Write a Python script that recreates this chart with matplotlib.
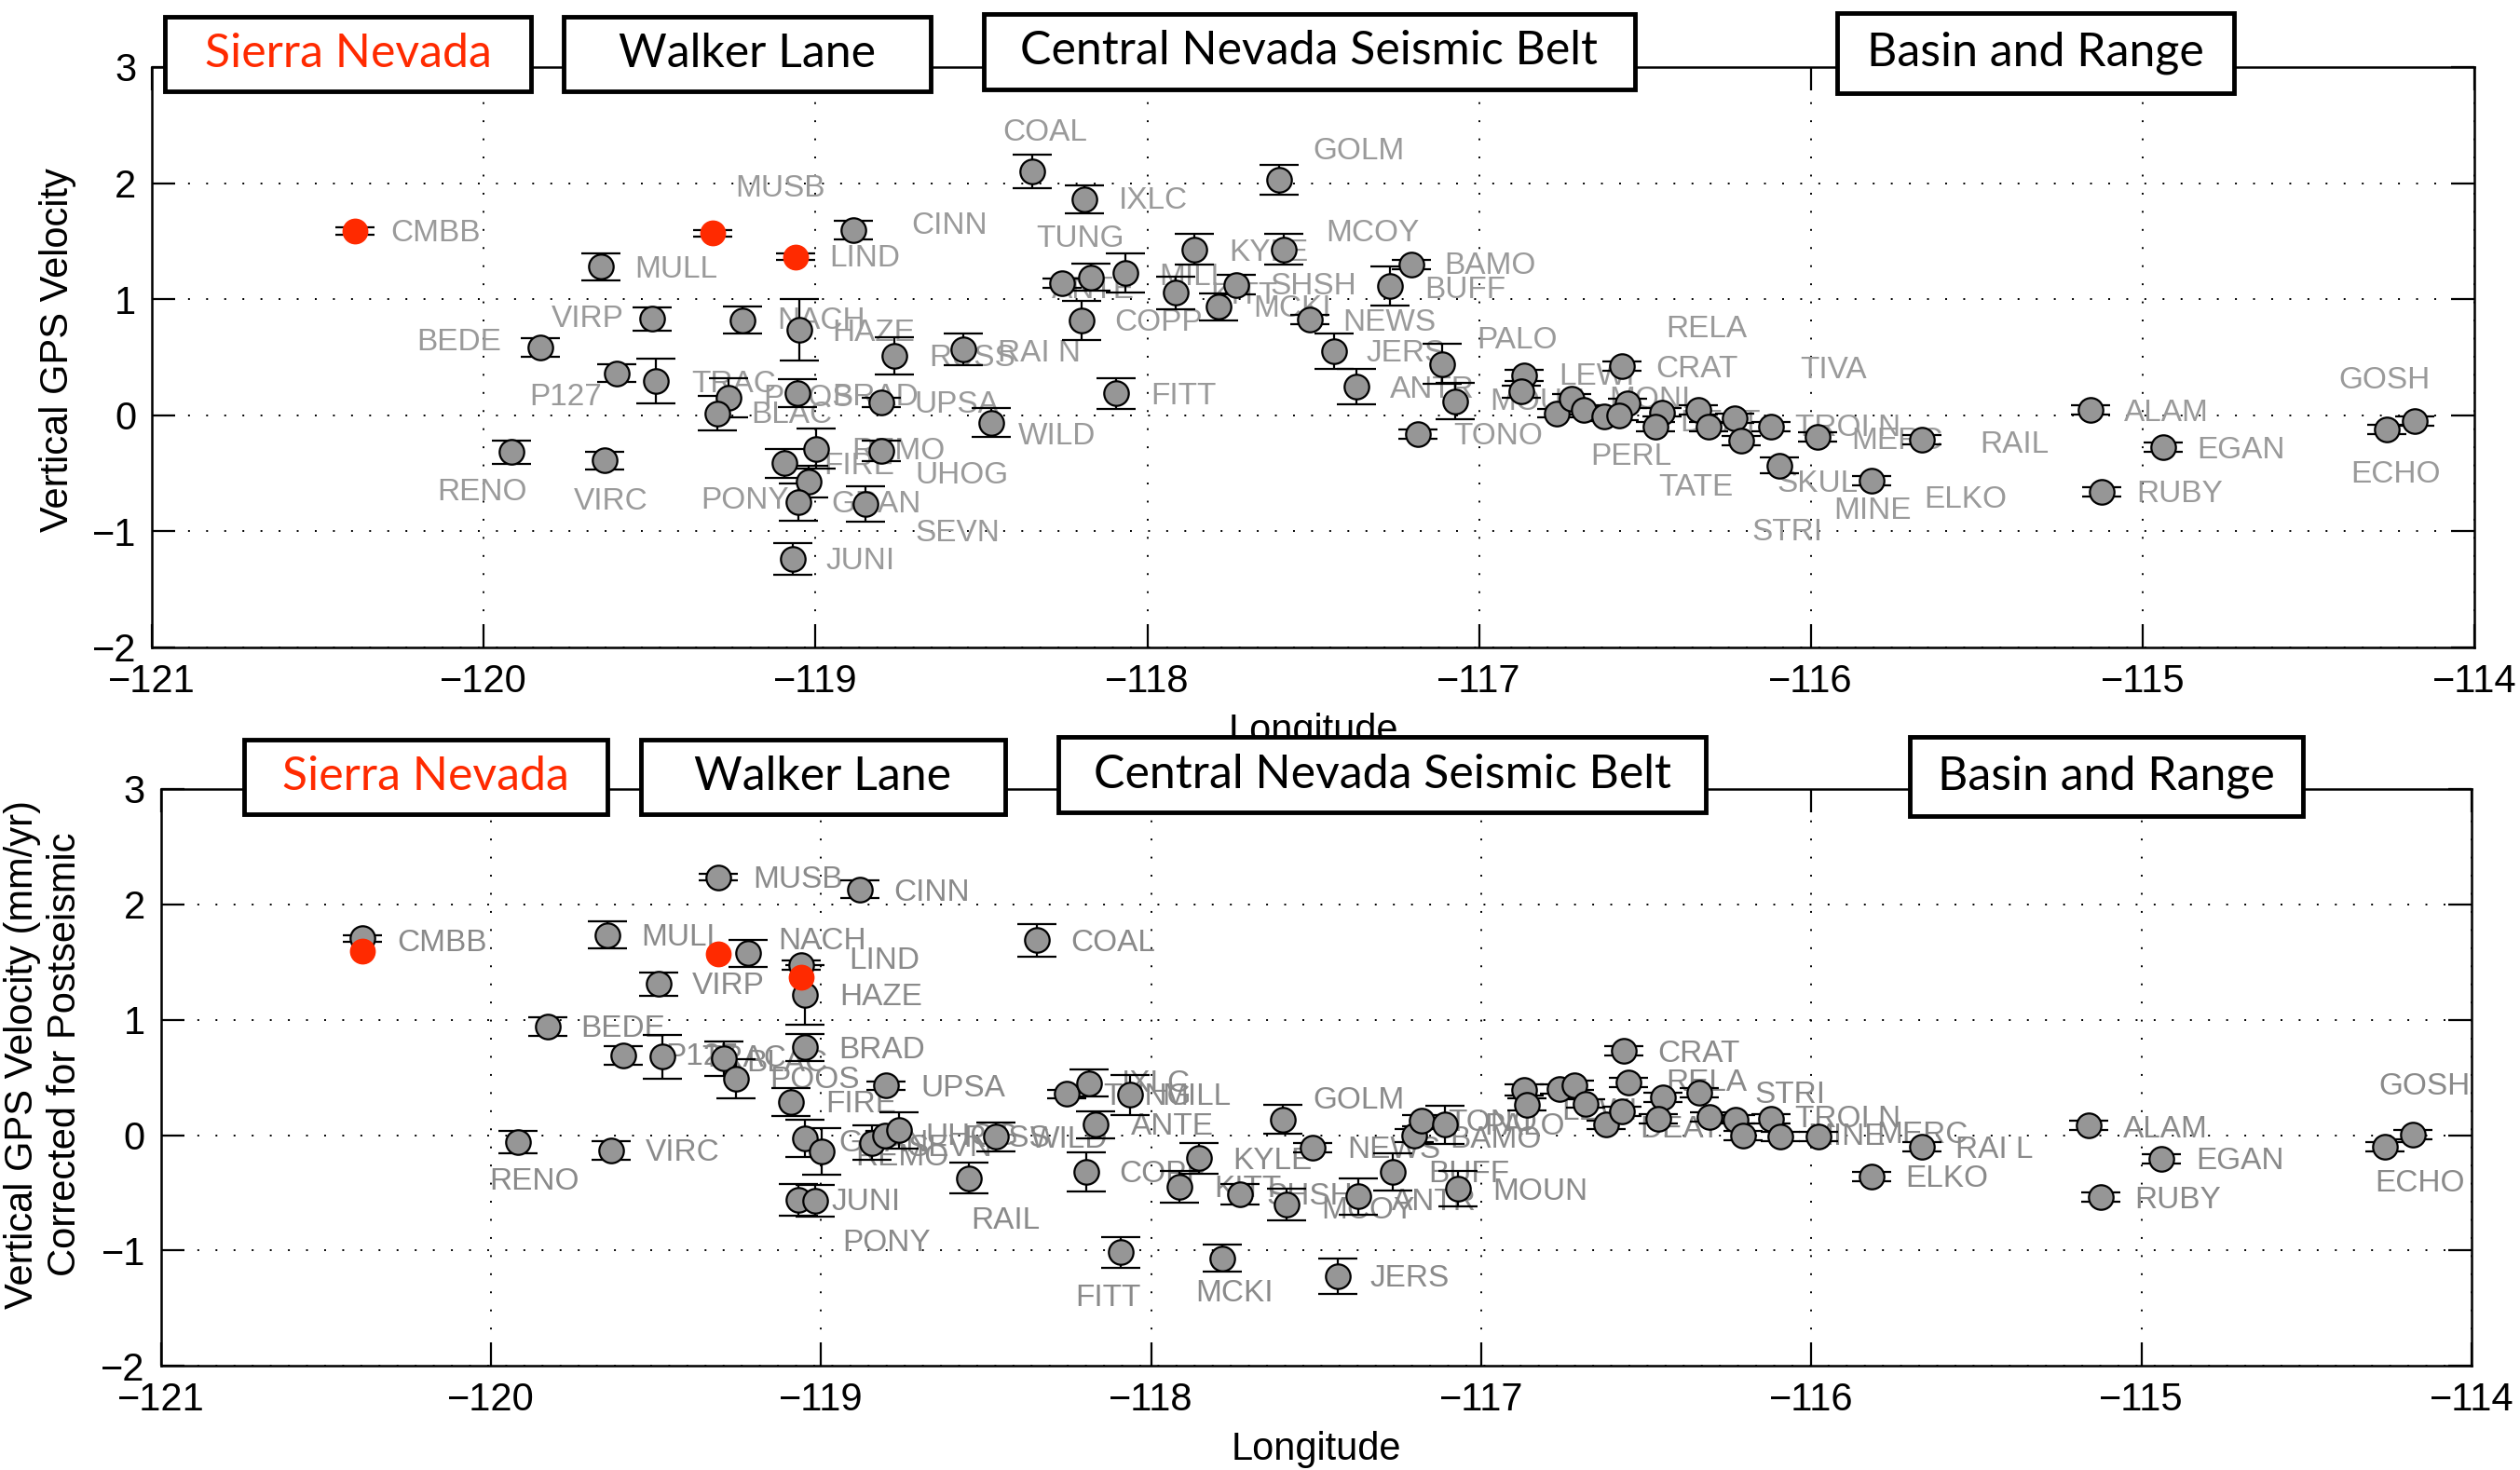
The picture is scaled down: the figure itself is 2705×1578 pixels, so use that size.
import matplotlib
matplotlib.use("Agg")
import matplotlib.pyplot as plt
from matplotlib.patches import Rectangle

# ---------------- top panel: vertical GPS velocity ----------------
top_lon = [-119.648, -119.493, -119.220, -119.828, -119.600, -119.481, -119.261, -119.296,
           -119.917, -119.637, -119.094, -118.887, -119.049, -118.763, -118.554, -119.054,
           -118.803, -118.470, -118.998, -118.803, -119.021, -119.051, -118.850, -119.069,
           -118.347, -118.189, -118.257, -118.169, -118.066, -118.198, -118.095, -117.857,
           -117.914, -117.731, -117.786, -117.602, -117.590, -117.510, -117.437, -117.371,
           -117.205, -117.269, -117.110, -117.071, -117.184, -116.864, -116.873, -116.766,
           -116.720, -116.685, -116.624, -116.569, -116.553, -116.577, -116.449, -116.468,
           -116.340, -116.309, -116.230, -116.209, -116.121, -116.096, -115.980, -115.816,
           -115.666, -115.156, -115.123, -114.939, -114.265, -114.181]
top_vel = [1.280, 0.830, 0.820, 0.583, 0.362, 0.295, 0.148, 0.018,
           -0.317, -0.391, -0.413, 1.598, 0.738, 0.513, 0.565, 0.192,
           0.111, -0.063, -0.288, -0.306, -0.572, -0.745, -0.764, -1.236,
           2.103, 1.860, 1.137, 1.188, 1.225, 0.819, 0.188, 1.428,
           1.055, 1.125, 0.934, 2.030, 1.428, 0.823, 0.553, 0.247,
           1.299, 1.114, 0.443, 0.122, -0.166, 0.343, 0.203, 0.018,
           0.140, 0.044, -0.007, 0.424, 0.100, 0.000, 0.026, -0.100,
           0.048, -0.100, -0.026, -0.221, -0.100, -0.432, -0.185, -0.565,
           -0.210, 0.048, -0.657, -0.277, -0.122, -0.048]
top_err = [0.118, 0.100, 0.115, 0.080, 0.075, 0.190, 0.170, 0.150,
           0.100, 0.080, 0.124, 0.080, 0.264, 0.160, 0.137, 0.120,
           0.040, 0.125, 0.175, 0.090, 0.140, 0.160, 0.153, 0.138,
           0.144, 0.122, 0.040, 0.115, 0.170, 0.170, 0.133, 0.133,
           0.140, 0.087, 0.118, 0.130, 0.133, 0.040, 0.150, 0.150,
           0.040, 0.166, 0.170, 0.157, 0.040, 0.050, 0.050, 0.040,
           0.040, 0.040, 0.040, 0.040, 0.040, 0.040, 0.040, 0.040,
           0.040, 0.040, 0.040, 0.040, 0.040, 0.065, 0.040, 0.040,
           0.040, 0.040, 0.040, 0.040, 0.040, 0.040]
top_red_lon = [-120.387, -119.310, -119.061]
top_red_vel = [1.587, 1.568, 1.365]
top_red_err = [0.03, 0.03, 0.03]

top_names = ["CMBB", "MULL", "VIRP", "BEDE", "P127", "TRAC", "BLAC", "RENO", "VIRC", "PONY",
             "MUSB", "CINN", "LIND", "NACH", "HAZE", "RUSS", "RAI N", "POOS", "BRAD", "UPSA",
             "WILD", "REMO", "FIRE", "GRAN", "UHOG", "SEVN", "JUNI", "COAL", "IXLC", "TUNG",
             "ANTE", "COPP", "FITT", "KYLE", "MILL", "KITT", "SHSH", "GOLM", "MCOY", "MCKI",
             "NEWS", "JERS", "ANTR", "BAMO", "BUFF", "TONO", "PALO", "MOUN", "LEWI", "MONI",
             "CRAT", "RELA", "TIVA", "PERL", "TATE", "SKUL", "STRI", "MINE", "ELKO", "MERC",
             "TROI N", "DEAT", "RAIL", "ALAM", "RUBY", "EGAN", "ECHO", "GOSH"]
top_name_lon = [-120.280, -119.546, -119.795, -120.203, -119.862, -119.375, -119.195, -120.139,
                -119.728, -119.345, -119.241, -118.710, -118.957, -119.116, -118.951, -118.659,
                -118.452, -119.158, -118.951, -118.702, -118.390, -118.890, -118.976, -118.951,
                -118.700, -118.700, -118.970, -118.437, -118.086, -118.334, -118.287, -118.099,
                -117.989, -117.755, -117.965, -117.810, -117.630, -117.500, -117.463, -117.682,
                -117.410, -117.339, -117.269, -117.105, -117.164, -117.077, -117.006, -116.967,
                -116.760, -116.608, -116.468, -116.437, -116.033, -116.663, -116.459, -116.102,
                -116.178, -115.932, -115.660, -115.877, -116.048, -116.395, -115.490, -115.056,
                -115.018, -114.836, -114.373, -114.409]
top_name_vel = [1.570, 1.255, 0.830, 0.627, 0.155, 0.270, 0.000, -0.664,
                -0.745, -0.738, 1.956, 1.630, 1.347, 0.810, 0.708, 0.490,
                0.535, 0.148, 0.155, 0.092, -0.185, -0.313, -0.443, -0.770,
                -0.517, -1.015, -1.255, 2.435, 1.845, 1.520, 1.077, 0.793,
                0.166, 1.400, 1.190, 1.030, 1.107, 2.270, 1.568, 0.915,
                0.800, 0.535, 0.221, 1.284, 1.077, -0.185, 0.646, 0.111,
                0.332, 0.129, 0.398, 0.738, 0.387, -0.358, -0.627, -0.590,
                -1.007, -0.823, -0.727, -0.221, -0.111, -0.074, -0.258, 0.018,
                -0.683, -0.303, -0.509, 0.295]

# ---------------- bottom panel: corrected for postseismic ----------------
bot_lon = [-120.389, -119.646, -119.220, -119.492, -119.829, -119.600, -119.480, -119.294,
           -119.259, -119.917, -119.635, -119.310, -118.883, -118.347, -119.060, -119.048,
           -119.050, -119.090, -118.802, -119.048, -118.998, -118.846, -118.806, -118.763,
           -118.469, -118.551, -119.068, -119.017, -118.255, -118.188, -118.167, -118.064,
           -118.197, -118.093, -117.913, -117.856, -117.730, -117.785, -117.601, -117.589,
           -117.510, -117.372, -117.436, -117.268, -117.204, -117.182, -117.109, -117.070,
           -116.870, -116.862, -116.764, -116.718, -116.685, -116.621, -116.568, -116.553,
           -116.575, -116.450, -116.465, -116.339, -116.310, -116.229, -116.208, -116.122,
           -116.095, -115.979, -115.817, -115.666, -115.159, -115.124, -114.940, -114.264,
           -114.179]
bot_vel = [1.704, 1.734, 1.575, 1.309, 0.939, 0.691, 0.680, 0.662,
           0.488, -0.059, -0.133, 2.233, 2.129, 1.686, 1.475, 1.216,
           0.762, 0.285, 0.429, -0.030, -0.140, -0.067, -0.004, 0.041,
           -0.015, -0.373, -0.558, -0.569, 0.355, 0.451, 0.089, 0.347,
           -0.318, -1.013, -0.447, -0.200, -0.510, -1.065, 0.137, -0.603,
           -0.107, -0.530, -1.224, -0.318, -0.004, 0.126, 0.089, -0.466,
           0.392, 0.266, 0.396, 0.429, 0.274, 0.089, 0.728, 0.458,
           0.207, 0.329, 0.144, 0.366, 0.155, 0.137, -0.004, 0.144,
           -0.011, -0.011, -0.362, -0.104, 0.081, -0.540, -0.207, -0.104,
           0.007]
bot_err = [0.030, 0.118, 0.118, 0.100, 0.083, 0.078, 0.190, 0.148,
           0.170, 0.098, 0.080, 0.030, 0.075, 0.142, 0.040, 0.260,
           0.117, 0.120, 0.035, 0.160, 0.200, 0.150, 0.040, 0.157,
           0.125, 0.133, 0.137, 0.138, 0.040, 0.120, 0.118, 0.170,
           0.166, 0.133, 0.140, 0.133, 0.087, 0.120, 0.128, 0.138,
           0.040, 0.157, 0.153, 0.163, 0.060, 0.050, 0.166, 0.153,
           0.050, 0.050, 0.040, 0.040, 0.040, 0.040, 0.040, 0.040,
           0.040, 0.040, 0.040, 0.040, 0.040, 0.040, 0.040, 0.040,
           0.040, 0.040, 0.040, 0.040, 0.040, 0.040, 0.040, 0.040,
           0.040]
bot_red_lon = [-120.389, -119.310, -119.060]
bot_red_vel = [1.593, 1.567, 1.371]

bot_names = ["CMBB", "MULL", "NACH", "VIRP", "BEDE", "P127", "TRAC", "RENO", "VIRC", "MUSB",
             "CINN", "COAL", "LIND", "HAZE", "BRAD", "BLAC", "POOS", "FIRE", "UPSA", "GRAN",
             "REMO", "SEVN", "UHOG", "RUSS", "WILD", "RAIL", "JUNI", "PONY", "IXLC", "TUNG",
             "MILL", "ANTE", "COPP", "KITT", "KYLE", "SHSH", "FITT", "MCKI", "GOLM", "NEWS",
             "JERS", "MCOY", "MOUN", "ANTR", "BUFF", "BAMO", "TONO", "PALO", "CRAT", "RELA",
             "STRI", "DEAT", "TROI N", "MINE", "MERC", "LEWI", "ELKO", "RAI L", "ALAM", "RUBY",
             "EGAN", "ECHO", "GOSH"]
bot_name_lon = [-120.283, -119.545, -119.130, -119.392, -119.728, -119.471, -119.361, -120.004,
                -119.532, -119.205, -118.781, -118.243, -118.916, -118.944, -118.946, -119.227,
                -119.154, -118.987, -118.699, -118.946, -118.897, -118.738, -118.683, -118.567,
                -118.366, -118.546, -118.967, -118.934, -118.090, -118.145, -117.968, -118.060,
                -118.097, -117.809, -117.752, -117.650, -118.231, -117.867, -117.510, -117.406,
                -117.336, -117.485, -116.966, -117.271, -117.161, -117.094, -117.100, -116.990,
                -116.465, -116.440, -116.171, -116.520, -116.049, -116.012, -115.804, -116.758,
                -115.716, -115.563, -115.055, -115.020, -114.835, -114.292, -114.280]
bot_name_vel = [1.660, 1.708, 1.678, 1.290, 0.920, 0.680, 0.660, -0.403,
                -0.152, 2.214, 2.100, 1.660, 1.512, 1.190, 0.736, 0.625,
                0.477, 0.266, 0.403, -0.070, -0.190, -0.115, -0.020, -0.030,
                -0.040, -0.743, -0.584, -0.939, 0.440, 0.330, 0.330, 0.070,
                -0.336, -0.466, -0.225, -0.530, -1.410, -1.370, 0.300, -0.133,
                -1.242, -0.650, -0.492, -0.577, -0.336, -0.040, 0.107, 0.070,
                0.700, 0.450, 0.347, 0.052, 0.137, -0.015, 0.000, 0.200,
                -0.381, -0.133, 0.052, -0.566, -0.226, -0.420, 0.420]

regions = ["Sierra Nevada", "Walker Lane", "Central Nevada Seismic Belt", "Basin and Range"]
region_colors = ["#ff2a00", "k", "k", "k"]
# box extents (lon0, lon1, vel0, vel1) for each panel
top_boxes = [(-120.96, -119.857, 2.79, 3.433), (-119.759, -118.654, 2.79, 3.433),
             (-118.493, -116.531, 2.81, 3.457), (-115.92, -114.725, 2.775, 3.467)]
bot_boxes = [(-120.749, -119.648, 2.779, 3.426), (-119.546, -118.443, 2.779, 3.426),
             (-118.281, -116.319, 2.797, 3.445), (-115.703, -114.512, 2.763, 3.445)]

TICK_FONT = "Liberation Sans"
BOX_FONT = "Lato"


def draw_panel(ax, lon, vel, err, names, nlon, nvel, boxes, name_color):
    ax.errorbar(lon, vel, yerr=err, fmt='o', ms=19, mfc='#969696', mec='k', mew=1.6,
                ecolor='k', elinewidth=1.6, capsize=15, capthick=1.6, zorder=3)
    for n, x, y in zip(names, nlon, nvel):
        ax.text(x, y, n, fontsize=24, color=name_color, ha='left', va='center',
                family=TICK_FONT, zorder=2)
    ax.set_xlim(-121, -114)
    ax.set_ylim(-2, 3)
    ax.set_xticks(range(-121, -113))
    ax.set_yticks(range(-2, 4))
    ax.grid(True, color='k', linestyle=(0, (1, 9)), linewidth=1.4)
    ax.tick_params(direction='in', length=18, width=1.6, top=True, right=True,
                   labelsize=30, pad=12)
    for lab in ax.get_xticklabels() + ax.get_yticklabels():
        lab.set_family(TICK_FONT)
    for s in ax.spines.values():
        s.set_linewidth(1.8)
    for (x0, x1, y0, y1), txt, c in zip(boxes, regions, region_colors):
        ax.add_patch(Rectangle((x0, y0), x1 - x0, y1 - y0, fc='white', ec='k', lw=3.5,
                               clip_on=False, zorder=10))
        ax.text((x0 + x1) / 2, (y0 + y1) / 2, txt, fontsize=36, color=c, ha='center',
                va='center', family=BOX_FONT, zorder=11, clip_on=False)
    ax.set_xlabel("Longitude", fontsize=30, family=TICK_FONT)


fig = plt.figure(figsize=(27.05, 15.78), dpi=100)
ax1 = fig.add_axes([0.0603, 0.5596, 0.9216, 0.3948])
ax2 = fig.add_axes([0.0638, 0.0707, 0.9170, 0.3928])

draw_panel(ax1, top_lon, top_vel, top_err, top_names, top_name_lon, top_name_vel,
           top_boxes, '#9a9a9a')
ax1.errorbar(top_red_lon, top_red_vel, yerr=top_red_err, fmt='o', ms=19, mfc='#ff2a00',
             mec='#ff2a00', ecolor='k', elinewidth=1.6, capsize=15, capthick=1.6, zorder=4)

draw_panel(ax2, bot_lon, bot_vel, bot_err, bot_names, bot_name_lon, bot_name_vel,
           bot_boxes, '#8a8a8a')
ax2.plot(bot_red_lon, bot_red_vel, 'o', ms=19, color='#ff2a00', zorder=5)

for ax in (ax1, ax2):
    ax.xaxis.set_label_coords(0.5, -0.145)
    ax.xaxis.label.set_va('center')

fig.text(0.0229, 0.762, "Vertical GPS Velocity", rotation=90, fontsize=30,
         family=TICK_FONT, ha='center', va='center')
fig.text(0.0174, 0.2826, "Vertical GPS Velocity (mm/yr)\nCorrected for Postseismic",
         rotation=90, fontsize=30, family=TICK_FONT, ha='center', va='center',
         multialignment='center', linespacing=1.2)

fig.savefig("out.png", dpi=100)
